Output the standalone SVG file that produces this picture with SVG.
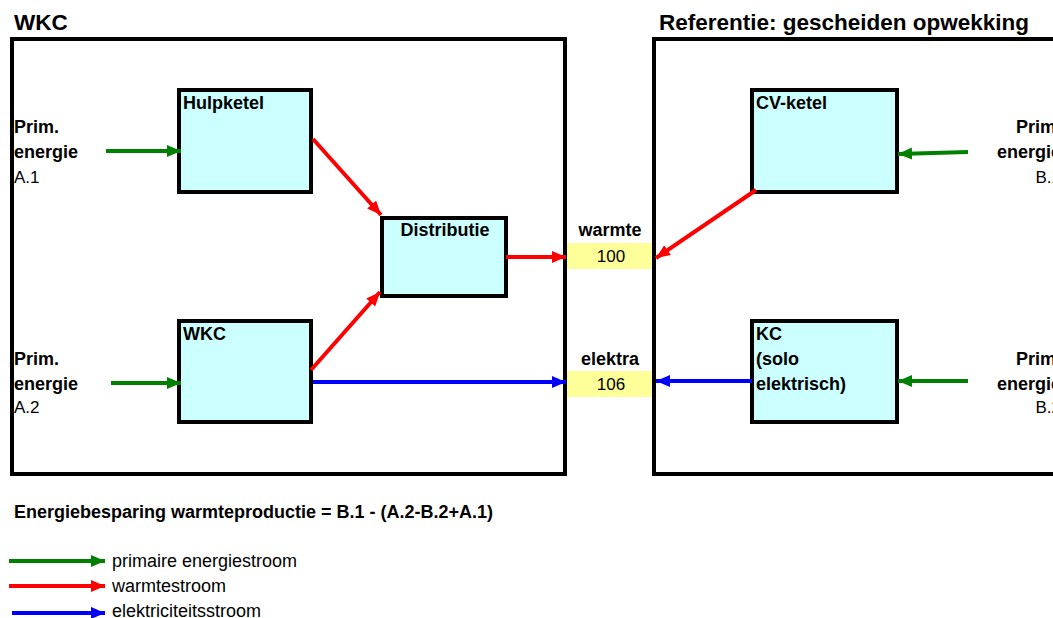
<svg xmlns="http://www.w3.org/2000/svg" width="1053" height="618" viewBox="0 0 1053 618">
<style>
text{font-family:"Liberation Sans",Arial,sans-serif;fill:#000}
.b{font-weight:bold;font-size:18px}
.r{font-size:17px}
.t{font-weight:bold;font-size:22.5px}
.lg{font-size:18px}
.frame{fill:none;stroke:#000;stroke-width:4}
.node{fill:#CCFFFF;stroke:#000;stroke-width:4}
.val{fill:#FFFF99;stroke:none}
.g{stroke:#008000;stroke-width:4;fill:none;marker-end:url(#ag)}
.rd{stroke:#FF0000;stroke-width:4;fill:none;marker-end:url(#ar)}
.bl{stroke:#0000FF;stroke-width:4;fill:none;marker-end:url(#ab)}
</style>
<defs>
<marker id="ag" markerUnits="userSpaceOnUse" markerWidth="16" markerHeight="14" refX="14" refY="6" orient="auto"><path d="M0,0 L14,6 L0,12 Z" fill="#008000"/></marker>
<marker id="ar" markerUnits="userSpaceOnUse" markerWidth="16" markerHeight="14" refX="14" refY="6" orient="auto"><path d="M0,0 L14,6 L0,12 Z" fill="#FF0000"/></marker>
<marker id="ab" markerUnits="userSpaceOnUse" markerWidth="16" markerHeight="14" refX="14" refY="6" orient="auto"><path d="M0,0 L14,6 L0,12 Z" fill="#0000FF"/></marker>
</defs>
<rect width="1053" height="618" fill="#fff"/>

<g id="frame-wkc">
<text class="t" x="14" y="30">WKC</text>
<rect class="frame" x="12" y="39" width="553" height="435"/>
</g>
<g id="frame-ref">
<text class="t" x="659" y="30">Referentie: gescheiden opwekking</text>
<rect class="frame" x="654" y="39" width="420" height="435"/>
</g>

<g id="input-a1">
<text class="b" x="14" y="133">Prim.</text>
<text class="b" x="14" y="158">energie</text>
<text class="r" x="14" y="183">A.1</text>
</g>
<g id="input-a2">
<text class="b" x="14" y="365">Prim.</text>
<text class="b" x="14" y="390">energie</text>
<text class="r" x="14" y="413">A.2</text>
</g>
<g id="input-b1">
<text class="b" x="1061" y="133" text-anchor="end">Prim.</text>
<text class="b" x="1061" y="158" text-anchor="end">energie</text>
<text class="r" x="1061" y="183" text-anchor="end">B.1</text>
</g>
<g id="input-b2">
<text class="b" x="1061" y="365" text-anchor="end">Prim.</text>
<text class="b" x="1061" y="390" text-anchor="end">energie</text>
<text class="r" x="1061" y="413" text-anchor="end">B.2</text>
</g>

<g id="node-hulpketel">
<rect class="node" x="179" y="90" width="132" height="102"/>
<text class="b" x="183" y="109">Hulpketel</text>
</g>
<g id="node-wkc">
<rect class="node" x="179" y="321" width="132" height="101"/>
<text class="b" x="183" y="340">WKC</text>
</g>
<g id="node-distributie">
<rect class="node" x="382" y="218" width="124" height="78"/>
<text class="b" x="445" y="236" text-anchor="middle">Distributie</text>
</g>
<g id="node-cvketel">
<rect class="node" x="752" y="90" width="145" height="102"/>
<text class="b" x="756" y="109">CV-ketel</text>
</g>
<g id="node-kc">
<rect class="node" x="752" y="321" width="145" height="101"/>
<text class="b" x="756" y="340">KC</text>
<text class="b" x="756" y="365">(solo</text>
<text class="b" x="756" y="390">elektrisch)</text>
</g>
<g id="node-warmte">
<text class="b" x="610" y="236" text-anchor="middle">warmte</text>
<rect class="val" x="567" y="243" width="85" height="26"/>
<text class="r" x="611" y="262" text-anchor="middle">100</text>
</g>
<g id="node-elektra">
<text class="b" x="610" y="365" text-anchor="middle">elektra</text>
<rect class="val" x="567" y="371" width="85" height="26"/>
<text class="r" x="611" y="390" text-anchor="middle">106</text>
</g>

<g id="connectors">
<path class="g" d="M106,151 L181,151"/>
<path class="g" d="M111,383 L181,383"/>
<path class="g" d="M968,152 L898,154"/>
<path class="g" d="M968,381 L898,381"/>
<path class="rd" d="M313,139 L381,215"/>
<path class="rd" d="M311,370 L380,292"/>
<path class="rd" d="M506,257 L566,257"/>
<path class="rd" d="M756,190 L656,258"/>
<path class="bl" d="M313,382 L566,382"/>
<path class="bl" d="M752,381 L656,381"/>
</g>

<g id="formula">
<text class="b" x="14" y="518">Energiebesparing warmteproductie = B.1 - (A.2-B.2+A.1)</text>
</g>

<g id="legend">
<path class="g" d="M9,561 L105,561"/>
<path class="rd" d="M9,586 L105,586"/>
<path class="bl" d="M12,613 L105,613"/>
<text class="lg" x="112" y="567">primaire energiestroom</text>
<text class="lg" x="112" y="592">warmtestroom</text>
<text class="lg" x="112" y="617">elektriciteitsstroom</text>
</g>
</svg>
